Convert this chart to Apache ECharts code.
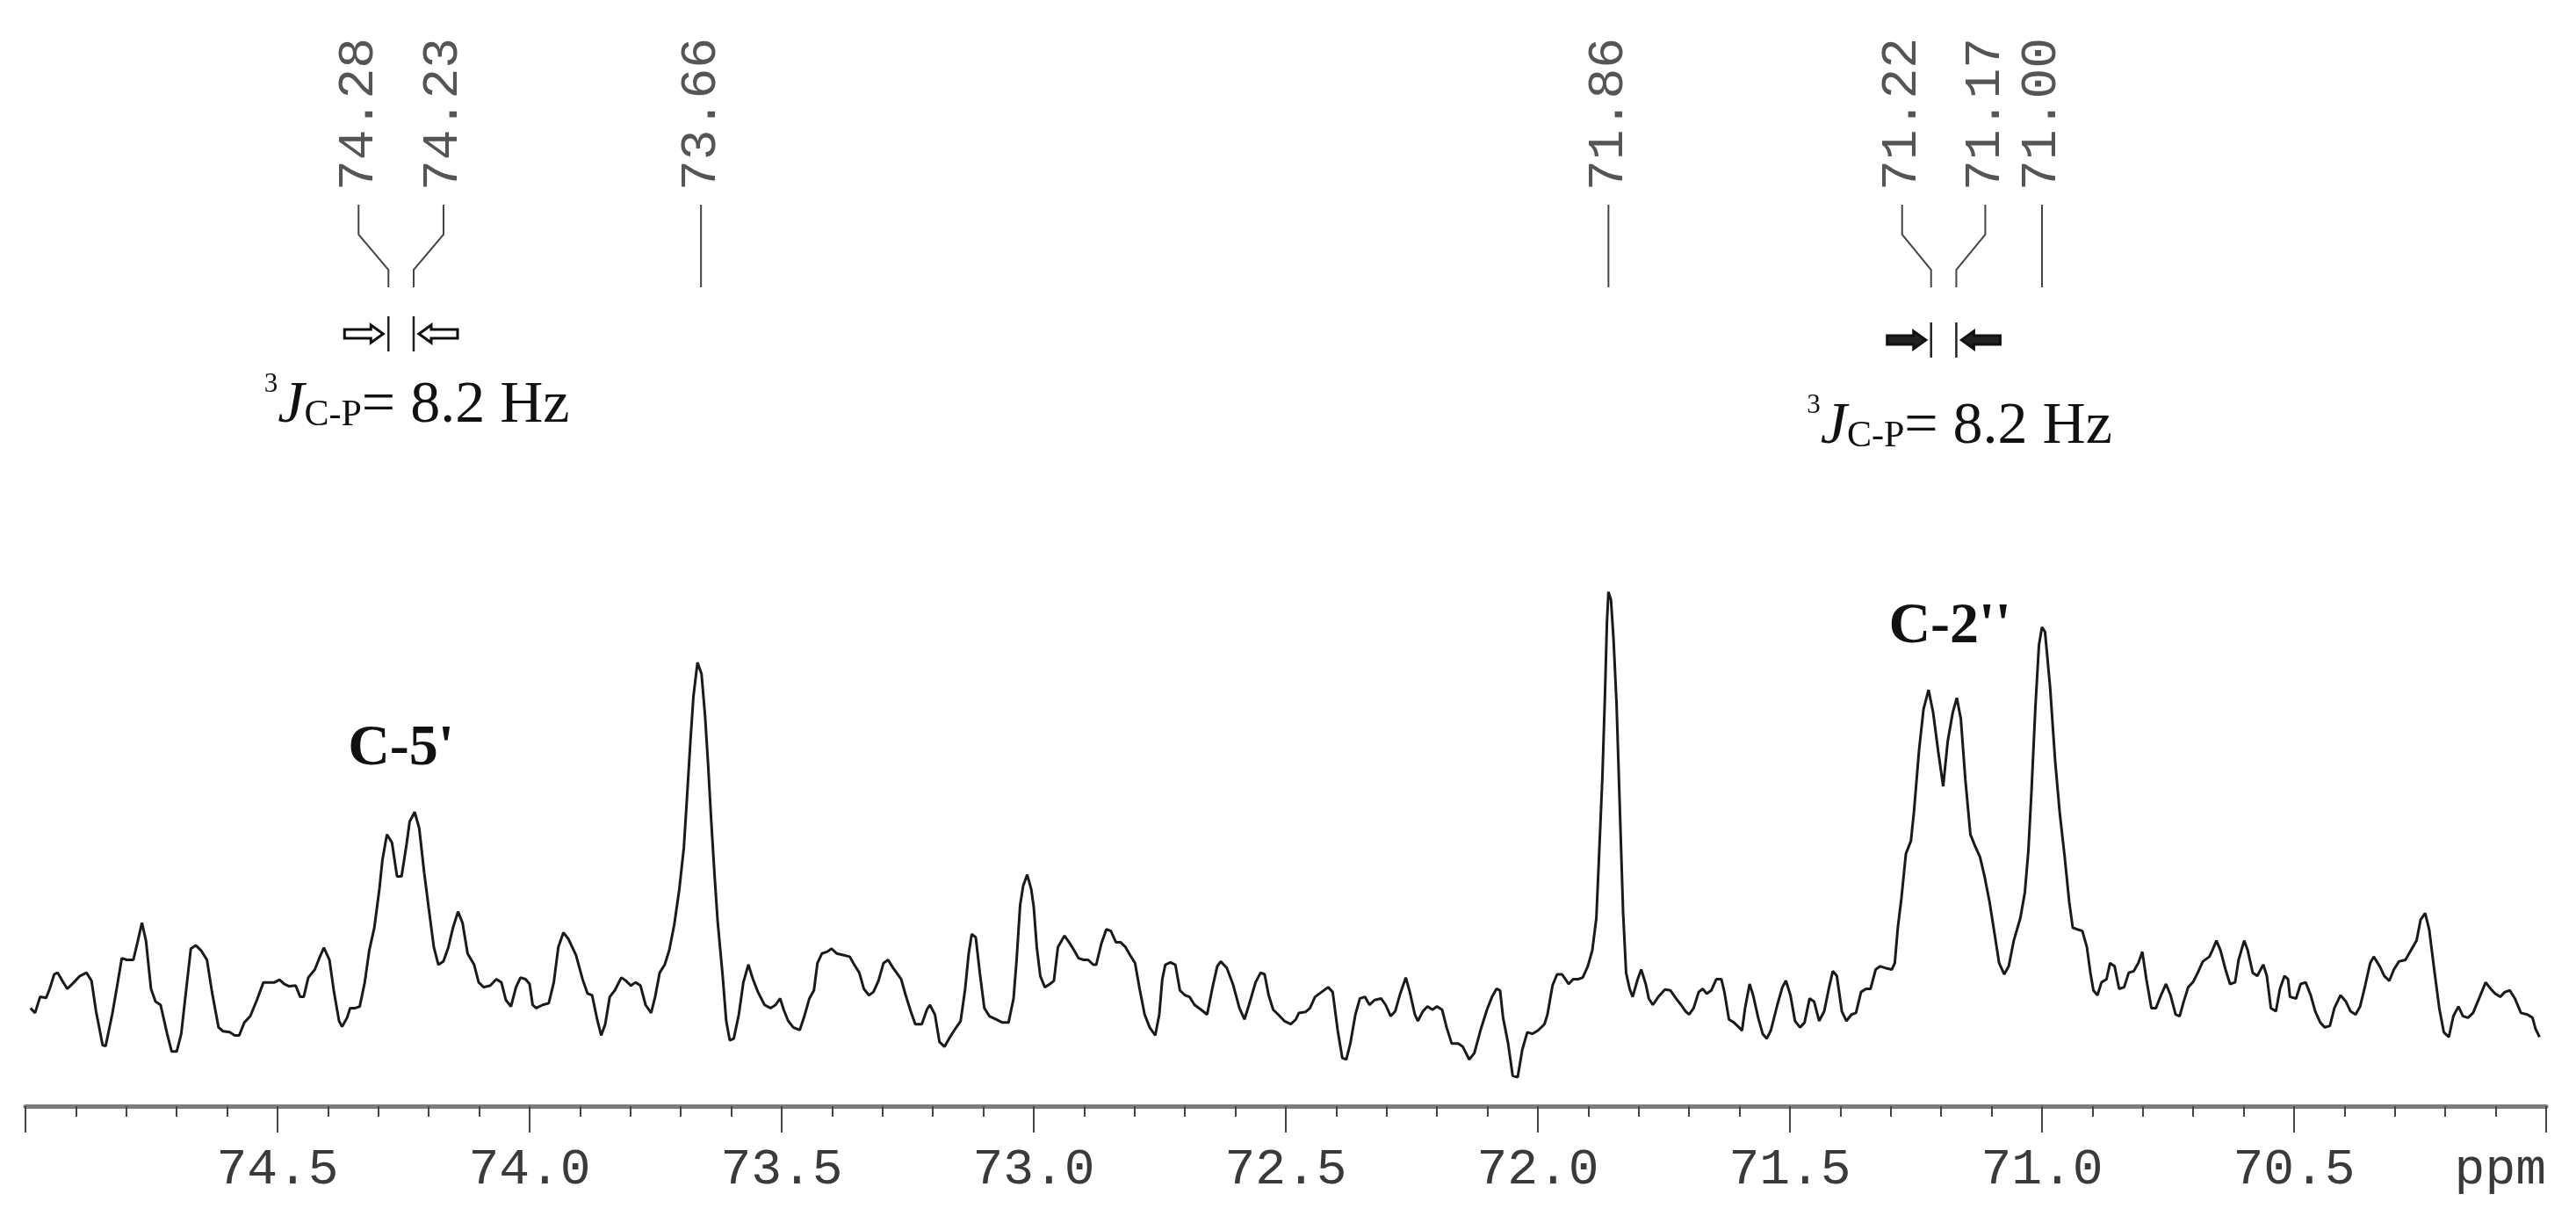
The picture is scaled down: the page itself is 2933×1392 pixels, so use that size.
<!DOCTYPE html>
<html><head><meta charset="utf-8">
<script src="https://cdn.jsdelivr.net/npm/echarts@6/dist/echarts.min.js"></script>
<style>html,body{margin:0;padding:0;background:#fff}#c{width:2933px;height:1392px}</style>
</head><body><div id="c"></div>
<script>
// ---- spectrum data: [chemical shift (ppm), intensity (a.u.)] ----
const spec75to74 = [[74.990,30.5],[74.981,29.0],[74.971,34.0],[74.959,33.7],[74.952,36.5],[74.943,41.0],[74.936,41.5],[74.927,39.0],[74.917,36.5],[74.904,38.5],[74.892,40.5],[74.879,41.5],[74.869,39.0],[74.860,29.5],[74.847,19.0],[74.841,18.7],[74.828,28.5],[74.818,37.5],[74.809,46.0],[74.799,45.5],[74.786,45.5],[74.777,51.5],[74.769,57.0],[74.761,51.5],[74.751,36.5],[74.742,32.5],[74.732,31.5],[74.719,22.5],[74.710,17.0],[74.700,17.0],[74.691,22.5],[74.681,36.5],[74.672,49.0],[74.662,50.0],[74.652,48.5],[74.640,45.5],[74.630,35.5],[74.617,24.5],[74.608,23.3],[74.595,23.0],[74.585,22.0],[74.576,22.0],[74.566,26.0],[74.554,28.0],[74.541,33.0],[74.528,38.5],[74.515,38.5],[74.506,38.5],[74.496,39.3],[74.487,38.0],[74.477,37.3],[74.464,37.5],[74.455,34.0],[74.448,34.0],[74.439,40.0],[74.426,42.5],[74.416,46.5],[74.408,49.3],[74.397,45.5],[74.388,35.5],[74.378,26.5],[74.372,24.7],[74.362,27.5],[74.356,30.5],[74.346,30.5],[74.337,31.0],[74.327,38.5],[74.318,48.5],[74.308,55.5],[74.298,67.5],[74.292,76.5],[74.283,84.5],[74.273,82.0],[74.263,71.5],[74.254,71.5],[74.244,81.5],[74.238,88.5],[74.228,91.5],[74.219,86.5],[74.209,72.5],[74.200,61.5],[74.190,49.5],[74.181,44.0],[74.171,45.0],[74.161,49.5],[74.152,55.5],[74.142,60.5],[74.133,57.0],[74.123,47.5],[74.110,44.0],[74.101,38.5],[74.091,37.0],[74.078,37.5],[74.066,39.5],[74.056,38.5],[74.047,33.0],[74.037,31.0],[74.027,37.0],[74.018,40.0],[74.008,39.5]];
const spec74to73 = [[74.000,38.0],[73.994,31.5],[73.987,30.5],[73.974,31.5],[73.962,32.0],[73.952,38.5],[73.943,49.5],[73.933,54.0],[73.923,52.0],[73.908,47.0],[73.895,39.5],[73.885,35.0],[73.876,34.5],[73.866,27.0],[73.858,22.0],[73.850,25.5],[73.841,34.0],[73.831,36.0],[73.818,40.0],[73.809,39.0],[73.799,37.5],[73.790,38.5],[73.780,37.5],[73.770,31.5],[73.759,29.0],[73.751,34.0],[73.742,41.5],[73.732,44.0],[73.723,48.5],[73.713,56.5],[73.703,67.5],[73.694,80.5],[73.688,95.5],[73.681,113.5],[73.675,127.5],[73.667,138.0],[73.659,134.5],[73.652,121.5],[73.646,106.5],[73.640,89.5],[73.633,71.5],[73.627,57.5],[73.617,40.5],[73.610,26.5],[73.603,20.5],[73.595,21.0],[73.585,28.5],[73.576,38.5],[73.566,44.0],[73.557,39.5],[73.547,35.5],[73.534,31.5],[73.522,30.5],[73.512,31.5],[73.503,33.5],[73.496,30.0],[73.487,26.5],[73.477,24.5],[73.464,23.7],[73.455,28.0],[73.445,33.5],[73.436,36.0],[73.429,44.5],[73.420,47.5],[73.410,48.0],[73.401,49.0],[73.391,47.5],[73.378,47.0],[73.365,46.5],[73.356,44.0],[73.346,41.5],[73.337,36.5],[73.327,34.5],[73.318,35.5],[73.308,39.0],[73.298,44.5],[73.289,45.5],[73.279,43.0],[73.263,39.5],[73.254,34.5],[73.244,29.5],[73.235,25.5],[73.222,25.5],[73.212,30.0],[73.206,31.5],[73.196,28.5],[73.187,20.0],[73.177,18.5],[73.168,21.0],[73.158,23.5],[73.145,26.5],[73.136,36.5],[73.129,47.5],[73.123,53.5],[73.115,52.5],[73.107,41.5],[73.098,30.5],[73.088,28.0],[73.075,27.0],[73.062,26.0],[73.050,26.0],[73.040,33.5],[73.034,45.5],[73.027,62.5],[73.021,68.5],[73.013,72.0],[73.005,67.5]];
const spec73to72 = [[73.000,62.0],[72.994,49.5],[72.987,40.5],[72.978,37.0],[72.968,38.0],[72.960,39.0],[72.952,49.5],[72.939,53.0],[72.930,51.0],[72.920,48.5],[72.911,46.0],[72.901,45.5],[72.892,45.5],[72.882,44.0],[72.876,44.0],[72.866,50.5],[72.856,55.0],[72.847,54.5],[72.837,51.0],[72.828,51.0],[72.818,49.5],[72.809,47.0],[72.799,44.5],[72.790,36.5],[72.780,28.5],[72.770,24.5],[72.759,22.0],[72.751,28.5],[72.745,39.5],[72.739,44.0],[72.729,44.7],[72.719,44.0],[72.710,36.0],[72.700,34.5],[72.691,34.0],[72.681,31.5],[72.668,30.0],[72.656,28.5],[72.646,36.5],[72.636,43.5],[72.629,45.0],[72.617,43.0],[72.605,38.0],[72.592,30.5],[72.582,27.0],[72.573,31.5],[72.560,38.5],[72.550,41.5],[72.542,41.0],[72.534,34.5],[72.525,30.0],[72.515,28.5],[72.503,26.5],[72.490,25.5],[72.480,27.0],[72.474,29.0],[72.461,29.3],[72.452,30.5],[72.442,34.0],[72.429,35.5],[72.416,37.0],[72.407,35.5],[72.397,23.5],[72.388,15.0],[72.380,14.5],[72.372,19.5],[72.362,28.5],[72.353,33.5],[72.343,34.0],[72.334,31.5],[72.324,33.0],[72.311,33.5],[72.302,31.5],[72.292,28.0],[72.283,29.5],[72.273,35.0],[72.262,40.0],[72.254,35.5],[72.244,28.5],[72.238,26.5],[72.228,29.5],[72.219,31.0],[72.209,30.0],[72.200,31.0],[72.190,30.0],[72.181,24.5],[72.171,19.5],[72.158,19.5],[72.149,18.5],[72.136,14.5],[72.126,16.5],[72.114,23.5],[72.101,30.0],[72.091,34.0],[72.082,36.5],[72.075,36.0],[72.069,27.5],[72.059,19.5],[72.050,9.5],[72.040,9.0],[72.031,17.5],[72.021,23.0],[72.011,22.5]];
const spec72to71 = [[72.000,23.5],[71.987,25.5],[71.981,28.5],[71.971,37.5],[71.962,41.0],[71.952,41.0],[71.939,38.0],[71.930,39.5],[71.920,39.5],[71.911,40.0],[71.901,43.5],[71.892,48.5],[71.884,58.5],[71.879,76.5],[71.872,102.5],[71.867,127.5],[71.863,150.5],[71.860,160.0],[71.855,157.5],[71.850,145.5],[71.844,125.5],[71.837,90.5],[71.831,60.5],[71.825,41.5],[71.818,36.5],[71.812,34.0],[71.802,39.5],[71.795,42.5],[71.786,38.0],[71.780,33.5],[71.772,31.5],[71.761,34.0],[71.748,36.3],[71.737,36.0],[71.726,33.5],[71.716,31.5],[71.707,29.5],[71.700,28.5],[71.691,30.5],[71.681,35.5],[71.673,36.5],[71.665,35.0],[71.656,36.0],[71.646,39.5],[71.636,39.5],[71.630,35.5],[71.621,27.0],[71.611,26.0],[71.601,24.5],[71.595,23.5],[71.589,30.5],[71.580,38.0],[71.573,34.5],[71.563,27.5],[71.554,22.5],[71.546,21.0],[71.538,23.5],[71.525,31.5],[71.515,37.0],[71.508,39.0],[71.499,34.5],[71.490,26.5],[71.480,24.5],[71.471,26.0],[71.461,33.5],[71.452,32.5],[71.442,26.5],[71.432,29.5],[71.423,36.5],[71.415,42.0],[71.407,40.5],[71.397,29.5],[71.388,26.5],[71.378,28.5],[71.369,29.0],[71.359,35.5],[71.349,36.5],[71.340,36.5],[71.330,42.5],[71.321,43.5],[71.311,43.0],[71.298,42.5],[71.292,44.5],[71.286,55.5],[71.279,64.5],[71.270,78.5],[71.260,82.5],[71.254,91.5],[71.244,110.5],[71.235,123.5],[71.225,129.5],[71.216,122.5],[71.206,110.5],[71.196,99.5],[71.187,113.5],[71.177,122.5],[71.169,127.0],[71.161,120.5],[71.152,101.5],[71.142,84.5],[71.133,81.0],[71.123,77.5],[71.114,71.5],[71.104,63.5],[71.094,53.5],[71.085,44.5],[71.075,41.0],[71.066,43.5],[71.056,51.5],[71.043,58.5],[71.034,66.5],[71.027,79.5],[71.021,97.5],[71.013,124.5],[71.006,143.5]];
const spec71to70 = [[71.000,149.0],[70.994,147.5],[70.984,130.5],[70.974,107.5],[70.965,91.5],[70.955,77.5],[70.946,63.5],[70.939,55.5],[70.930,55.0],[70.920,54.5],[70.911,49.5],[70.904,41.5],[70.898,36.0],[70.890,34.5],[70.882,38.5],[70.872,39.5],[70.865,44.5],[70.856,43.5],[70.847,36.5],[70.837,37.0],[70.828,41.5],[70.818,42.0],[70.809,44.5],[70.801,48.0],[70.793,39.5],[70.783,30.5],[70.774,30.5],[70.764,34.5],[70.754,38.0],[70.745,34.5],[70.735,28.5],[70.727,28.0],[70.719,32.5],[70.710,37.0],[70.700,38.7],[70.691,41.5],[70.681,45.0],[70.668,46.5],[70.662,48.5],[70.654,51.5],[70.646,48.5],[70.636,42.5],[70.627,38.0],[70.617,38.5],[70.610,45.5],[70.599,51.5],[70.592,48.5],[70.582,41.5],[70.573,40.5],[70.561,44.0],[70.554,40.5],[70.546,30.5],[70.536,29.5],[70.528,36.5],[70.519,40.5],[70.512,39.5],[70.508,34.0],[70.496,33.5],[70.487,38.0],[70.477,38.5],[70.467,34.5],[70.458,29.5],[70.448,26.0],[70.439,24.5],[70.429,25.0],[70.420,30.5],[70.408,34.5],[70.397,32.5],[70.388,29.5],[70.378,28.5],[70.369,31.0],[70.359,37.5],[70.349,44.5],[70.342,46.5],[70.330,43.5],[70.321,40.5],[70.311,39.0],[70.302,42.5],[70.292,45.0],[70.279,45.5],[70.270,48.0],[70.257,51.5],[70.249,58.0],[70.240,60.0],[70.232,55.0],[70.222,42.5],[70.212,30.5],[70.203,23.0],[70.193,21.5],[70.184,28.0],[70.174,31.0],[70.165,28.0],[70.155,27.5],[70.145,29.0],[70.133,33.5],[70.120,38.5],[70.110,36.5],[70.101,35.0],[70.091,34.0],[70.082,35.5],[70.072,36.0],[70.062,33.5],[70.050,29.0],[70.037,28.5],[70.027,27.5],[70.021,24.0],[70.013,21.5]];

// ---- peak picks and annotations ----
const peakShifts = [74.28, 74.23, 73.66, 71.86, 71.22, 71.17, 71.00];
const peakLabels = ['74.28', '74.23', '73.66', '71.86', '71.22', '71.17', '71.00'];
const coupledPairs = [[74.28, 74.23], [71.22, 71.17]];
const couplingValue = '8.2 Hz';
const groupNames = ["C-5'", "C-2''"];
const axisUnit = 'ppm';

// ---- layout (pixels) ----
const labelShift = [-34, 34, 0, 0, -33, 33, 0];
const MONO = '"Liberation Mono", "Courier New", monospace';
const SERIF = '"Liberation Serif", "Times New Roman", serif';

const data = [].concat(spec75to74, spec74to73, spec73to72, spec72to71, spec71to70);

const chart = echarts.init(document.getElementById('c'), null, {renderer: 'canvas', width: 2933, height: 1392});
chart.setOption({
  animation: false,
  backgroundColor: '#ffffff',
  grid: {left: 29, right: 34, top: 637, bottom: 133, containLabel: false},
  xAxis: {
    type: 'value', inverse: true, min: 70, max: 75, interval: 0.5,
    axisLine: {show: true, onZero: false, lineStyle: {color: '#7d7d7d', width: 5}},
    axisTick: {show: true, inside: false, length: 30, lineStyle: {color: '#444', width: 2}},
    minorTick: {show: true, splitNumber: 5, length: 12, lineStyle: {color: '#444', width: 2}},
    splitLine: {show: false},
    axisLabel: {showMinLabel: false, showMaxLabel: false, margin: 44,
      fontFamily: MONO, fontSize: 58, color: '#3a3a3a',
      formatter: v => v.toFixed(1)}
  },
  yAxis: {type: 'value', min: 0, max: 170, show: false},
  series: [{
    type: 'line', data: data, showSymbol: false, symbol: 'none', clip: false,
    lineStyle: {color: '#1a1a1a', width: 3}
  }]
});

const px = v => chart.convertToPixel({xAxisIndex: 0}, v);

const ctx = document.createElement('canvas').getContext('2d');
function tw(font, s) { ctx.font = font; return ctx.measureText(s).width; }

function txt(x, y, text, font, fill, align, valign, extra) {
  return Object.assign({type: 'text', x: x, y: y, silent: true, z: 100,
    style: {text: text, font: font, fill: fill, align: align, textAlign: align,
            verticalAlign: valign, textVerticalAlign: valign}}, extra || {});
}

const g = [];
// peak pick labels + leader lines
peakShifts.forEach((s, i) => {
  const xs = px(s), xt = xs + labelShift[i];
  g.push(txt(xt, 217, peakLabels[i], '58px ' + MONO, '#555', 'left', 'middle', {rotation: Math.PI / 2}));
  g.push({type: 'polyline', silent: true, z: 100,
    shape: {points: [[xt, 233], [xt, 267], [xs, 307], [xs, 327]]},
    style: {stroke: '#444', lineWidth: 2, fill: null}});
});

// coupling markers
function arrow(tip, yc, dir, filled) {
  const L = 44, H = 14, hw = 10, sw = 5;
  const t = tip, b = tip - dir * H, e = tip - dir * L;
  return {type: 'polygon', silent: true, z: 100,
    shape: {points: [[e, yc - sw], [b, yc - sw], [b, yc - hw], [t, yc], [b, yc + hw], [b, yc + sw], [e, yc + sw]]},
    style: {fill: filled ? '#222' : '#fff', stroke: '#111', lineWidth: 3}};
}
const markerRows = [{top: 360, bot: 400, base: 483, filled: false}, {top: 367, bot: 407, base: 507, filled: true}];
coupledPairs.forEach((pair, k) => {
  const r = markerRows[k];
  const x1 = px(pair[0]), x2 = px(pair[1]);
  const yc = (r.top + r.bot) / 2;
  g.push({type: 'line', silent: true, z: 100, shape: {x1: x1, y1: r.top, x2: x1, y2: r.bot}, style: {stroke: '#222', lineWidth: 2.5}});
  g.push({type: 'line', silent: true, z: 100, shape: {x1: x2, y1: r.top, x2: x2, y2: r.bot}, style: {stroke: '#222', lineWidth: 2.5}});
  g.push(arrow(x1 - 6, yc, 1, r.filled));
  g.push(arrow(x2 + 6, yc, -1, r.filled));
  // ³J(C-P) = 8.2 Hz
  const parts = [
    {t: '3', size: 31, font: '31px ' + SERIF, dy: -36},
    {t: 'J', size: 68, font: 'italic 68px ' + SERIF, dy: 0},
    {t: 'C-P', size: 42, font: '42px ' + SERIF, dy: 3},
    {t: '= ' + couplingValue, size: 68, font: '68px ' + SERIF, dy: 0}
  ];
  const total = parts.reduce((s, p) => s + tw(p.font, p.t), 0);
  let x = (x1 + x2) / 2 + 18 - total / 2;
  parts.forEach(p => {
    g.push(txt(x, r.base + p.dy + 0.2 * p.size, p.t, p.font, '#111', 'left', 'bottom'));
    x += tw(p.font, p.t);
  });
});

// group names
g.push(txt(px((coupledPairs[0][0] + coupledPairs[0][1]) / 2), 873 + 13, groupNames[0], 'bold 66px ' + SERIF, '#111', 'center', 'bottom'));
g.push(txt(px((coupledPairs[1][0] + coupledPairs[1][1]) / 2) + 7, 734 + 13, groupNames[1], 'bold 66px ' + SERIF, '#111', 'center', 'bottom'));

// unit label at the axis end
g.push(txt(px(70), 1332, axisUnit, '58px ' + MONO, '#3a3a3a', 'right', 'middle'));

chart.setOption({graphic: {elements: g}});
</script>
</body></html>
